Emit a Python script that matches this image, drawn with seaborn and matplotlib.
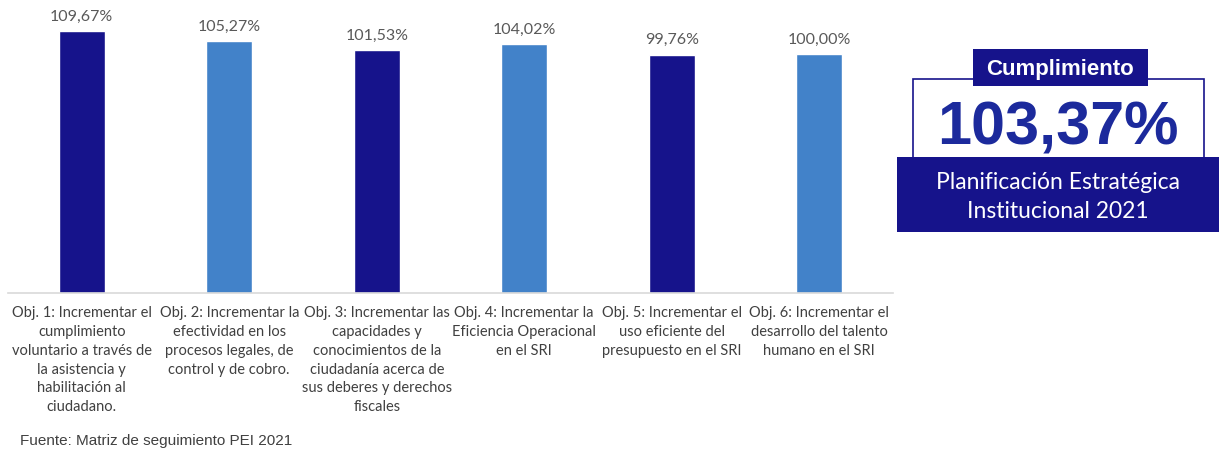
import pandas as pd
import seaborn as sns
import matplotlib.pyplot as plt
from matplotlib.patches import Rectangle

# Datos
objetivos = [
    "Obj. 1: Incrementar el\ncumplimiento\nvoluntario a través de\nla asistencia y\nhabilitación al\nciudadano.",
    "Obj. 2: Incrementar la\nefectividad en los\nprocesos legales, de\ncontrol y de cobro.",
    "Obj. 3: Incrementar las\ncapacidades y\nconocimientos de la\nciudadanía acerca de\nsus deberes y derechos\nfiscales",
    "Obj. 4: Incrementar la\nEficiencia Operacional\nen el SRI",
    "Obj. 5: Incrementar el\nuso eficiente del\npresupuesto en el SRI",
    "Obj. 6: Incrementar el\ndesarrollo del talento\nhumano en el SRI",
]
cumplimiento = [109.67, 105.27, 101.53, 104.02, 99.76, 100.00]
cumplimiento_total = 103.37

NAVY = "#16138B"
BLUE = "#4282C9"
colores = [NAVY, BLUE, NAVY, BLUE, NAVY, BLUE]

df = pd.DataFrame({"objetivo": objetivos, "valor": cumplimiento})

sns.set_style("white")
plt.rcParams['font.family'] = ['Lato', 'DejaVu Sans']

W, H = 1219, 452
fig = plt.figure(figsize=(W / 100, H / 100), dpi=100)
ax = fig.add_axes([8 / W, 1 - 294 / H, (893 - 8) / W, 294 / H])

sns.barplot(data=df, x="objetivo", y="valor", hue="objetivo", palette=colores,
            legend=False, width=0.31, ax=ax, saturation=1)

etiquetas = [f"{v:.2f}".replace(".", ",") + "%" for v in cumplimiento]
for cont, lab in zip(ax.containers, etiquetas):
    ax.bar_label(cont, labels=[lab], padding=6, fontsize=11.5, color="#595959")

ax.set_ylim(0, 123)
ax.set_xlim(-0.5, 5.5)
ax.set_yticks([])
ax.set_xlabel("")
ax.set_ylabel("")
for s in ["top", "right", "left"]:
    ax.spines[s].set_visible(False)
ax.spines["bottom"].set_color("#d9d9d9")
ax.spines["bottom"].set_linewidth(1.2)
ax.tick_params(axis="x", length=0, pad=9, labelsize=10.5, labelcolor="#404040")
for t in ax.get_xticklabels():
    t.set_linespacing(1.43)
    t.set_horizontalalignment("center")

fig.text(20 / W, 1 - 441 / H, "Fuente: Matriz de seguimiento PEI 2021",
         family="Liberation Sans", fontsize=11, color="#404040", va="center")

# Recuadro de cumplimiento
def caja(x0, y0, x1, y1, **kw):
    fig.patches.append(Rectangle((x0 / W, 1 - y1 / H), (x1 - x0) / W, (y1 - y0) / H,
                                 transform=fig.transFigure, **kw))

caja(913, 80, 1204, 160, facecolor="white", edgecolor=NAVY, linewidth=1.2)
caja(973, 50, 1148, 87, facecolor=NAVY, edgecolor="none")
caja(897, 158, 1219, 233, facecolor=NAVY, edgecolor="none")

fig.text(1060 / W, 1 - 69 / H, "Cumplimiento", family="Liberation Sans",
         fontweight="bold", fontsize=16, color="white", ha="center", va="center")
fig.text(1058 / W, 1 - 129 / H, f"{cumplimiento_total:.2f}".replace(".", ",") + "%",
         family="Liberation Sans", fontweight="bold", fontsize=44, color="#1C2A9C",
         ha="center", va="center")
fig.text(1058 / W, 1 - 197 / H, "Planificación Estratégica\nInstitucional 2021",
         fontsize=16.5, color="white", ha="center", va="center", linespacing=1.5)

fig.savefig("out.png", dpi=100)
